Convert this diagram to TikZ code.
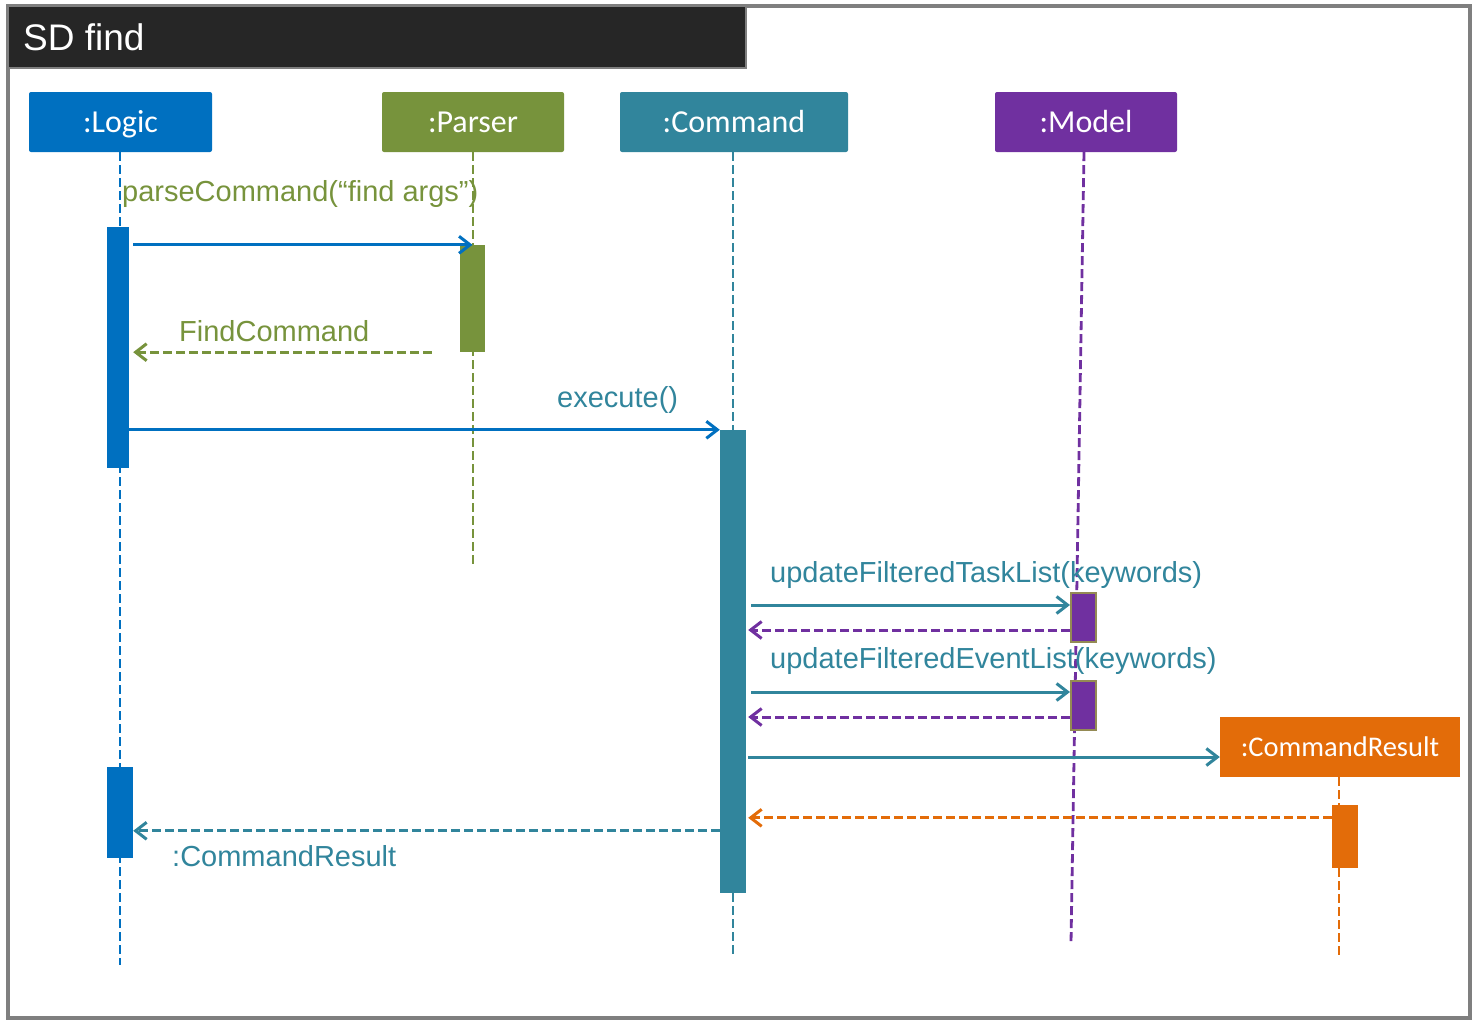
\documentclass[tikz,border=0pt]{standalone}
\usepackage{fontspec}
\setmainfont{Liberation Sans}
\newfontfamily\carlito{Carlito}
\usetikzlibrary{arrows.meta,fit}
\definecolor{logicc}{HTML}{0070C0}
\definecolor{parserc}{HTML}{77933C}
\definecolor{cmdc}{HTML}{31859C}
\definecolor{modelc}{HTML}{7030A0}
\definecolor{resultc}{HTML}{E36C09}
\definecolor{olivec}{HTML}{948A54}
\definecolor{framegray}{HTML}{7F7F7F}
\definecolor{titlebg}{HTML}{262626}
\tikzset{>={Straight Barb[length=11pt,width=17pt]},%
  lifehead/.style={fill=#1,text=white,minimum height=60pt,inner sep=0pt,
    rounded corners=2pt,text height=20.5pt,text depth=0pt,
    font=\carlito\fontsize{32}{38}\selectfont},
  actbar/.style={fill=#1,inner sep=0pt},
  lifeline/.style={draw=#1,line width=2.8pt,dash pattern=on 9pt off 4pt},
  call/.style={draw=#1,line width=3pt,->},
  reply/.style={draw=#1,line width=3pt,dash pattern=on 9pt off 4pt,->},
  msg/.style={text=#1,anchor=west,inner sep=0pt,
    font=\fontsize{29}{34}\selectfont}}

\begin{document}
\begin{tikzpicture}[x=1pt,y=-1pt]
  \useasboundingbox (0,0) rectangle (1473,1020);
  \draw[line width=4pt,framegray] (8,6) rectangle (1470,1018);
  \draw[line width=2pt,framegray,fill=titlebg] (8,6) rectangle (746,68);
  \node[anchor=west,inner sep=0pt,text=white,font=\fontsize{37}{44}\selectfont] (title) at (23,37) {SD find};

  \node[lifehead=logicc,minimum width=183pt] (logic) at (120.5,122) {:Logic};
  \node[lifehead=parserc,minimum width=182pt] (parser) at (473,122) {:Parser};
  \node[lifehead=cmdc,minimum width=228pt] (cmd) at (734,122) {:Command};
  \node[lifehead=modelc,minimum width=182pt] (model) at (1086,122) {:Model};
  \node[lifehead=resultc,minimum width=240pt,rounded corners=0pt,text height=18.5pt,
    font=\carlito\fontsize{28.5}{34}\selectfont] (result) at (1340,747) {:CommandResult};

  \coordinate (logicEnd) at (120,965);
  \coordinate (parserEnd) at (473,568);
  \coordinate (cmdEnd) at (733,955);
  \coordinate (modelEnd) at (1071,943);
  \coordinate (resultEnd) at (1339,955);
  \draw[lifeline=logicc] ([xshift=-0.5pt]logic.south) -- (logicEnd);
  \draw[lifeline=parserc] (parser.south) -- (parserEnd);
  \draw[lifeline=cmdc] ([xshift=-1pt]cmd.south) -- (cmdEnd);
  \draw[lifeline=modelc] ([xshift=-2pt]model.south) -- (modelEnd);
  \draw[lifeline=resultc] ([xshift=-1pt]result.south) -- (resultEnd);

  \node[actbar=logicc,fit={(107,227) (129,468)}] (logicA) {};
  \node[actbar=logicc,fit={(107,767) (133,858)}] (logicB) {};
  \node[actbar=parserc,fit={(460,245) (485,352)}] (parserA) {};
  \node[actbar=cmdc,fit={(720,430) (746,893)}] (cmdA) {};
  \node[actbar=modelc,draw=olivec,line width=2pt,fit={(1071,593) (1096,642)}] (modelA) {};
  \node[actbar=modelc,draw=olivec,line width=2pt,fit={(1071,681) (1096,730)}] (modelB) {};
  \node[actbar=resultc,fit={(1332,805) (1358,868)}] (resultA) {};

  \draw[call=logicc] ([xshift=4pt]logicA.east |- parserA.north) -- (parserA.north);
  \draw[reply=parserc] ([xshift=-28pt]parserA.south west) -- ([xshift=4pt]logicA.east |- parserA.south);
  \draw[call=logicc] (logicA.east |- cmdA.north) -- (cmdA.north west);
  \draw[call=cmdc] ([xshift=5pt,yshift=-13pt]cmdA.east |- modelA.north) -- ([yshift=-13pt]modelA.north west);
  \draw[reply=modelc] ([yshift=-38pt]modelA.north west) -- ([xshift=2pt,yshift=-38pt]cmdA.east |- modelA.north);
  \draw[call=cmdc] ([xshift=5pt,yshift=-12pt]cmdA.east |- modelB.north) -- ([yshift=-12pt]modelB.north west);
  \draw[reply=modelc] ([yshift=-37pt]modelB.north west) -- ([xshift=2pt,yshift=-37pt]cmdA.east |- modelB.north);
  \draw[call=cmdc] ([xshift=2pt,yshift=-10pt]cmdA.east |- result.west) -- ([yshift=-10pt]result.west);
  \draw[reply=resultc] ([yshift=-13pt]resultA.north west) -- ([xshift=2pt,yshift=-13pt]cmdA.east |- resultA.north);
  \draw[reply=cmdc] ([yshift=-64pt]cmdA.west |- logicB.north) -- ([yshift=-64pt]logicB.north east);

  \node[msg=parserc] (parseLbl) at (122,194) {parseCommand(“find args”)};
  \node[msg=parserc] (findLbl) at (179,331) {FindCommand};
  \node[msg=cmdc] (execLbl) at (557,400) {execute()};
  \node[msg=cmdc] (taskLbl) at (770,575) {updateFilteredTaskList(keywords)};
  \node[msg=cmdc] (eventLbl) at (770,661) {updateFilteredEventList(keywords)};
  \node[msg=cmdc] (resLbl) at (172,856) {:CommandResult};
\end{tikzpicture}
\end{document}
